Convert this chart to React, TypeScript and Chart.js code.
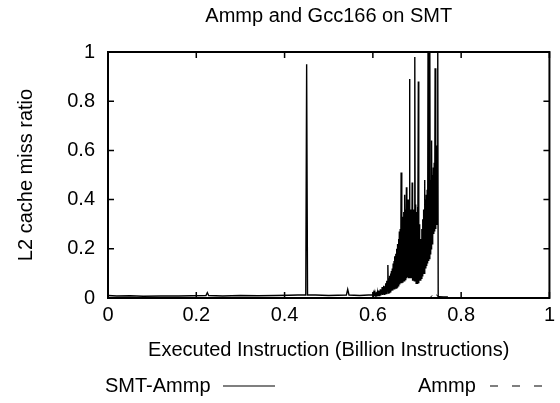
import React, { useEffect, useRef } from "react";
import { Chart, registerables } from "chart.js";

Chart.register(...registerables);

const chartTitle = "Ammp and Gcc166 on SMT";
const xAxisTitle = "Executed Instruction (Billion Instructions)";
const yAxisTitle = "L2 cache miss ratio";
const seriesNames = ["SMT-Ammp", "Ammp"];
const xTicks = [0, 0.2, 0.4, 0.6, 0.8, 1];
const yTicks = [0, 0.2, 0.4, 0.6, 0.8, 1];

// SMT-Ammp: [x (billion instructions), miss ratio]
const smtAmmpLow: number[][] = [
  [0, 0.01], [0.02, 0.008], [0.05, 0.009], [0.08, 0.007], [0.12, 0.008], [0.16, 0.008],
  [0.19, 0.009], [0.222, 0.01], [0.225, 0.022], [0.228, 0.01], [0.26, 0.008], [0.3, 0.01],
  [0.34, 0.009], [0.38, 0.01], [0.41, 0.011], [0.43, 0.012], [0.448, 0.012], [0.45, 0.95],
  [0.452, 0.012], [0.47, 0.012], [0.5, 0.01], [0.54, 0.012], [0.543, 0.035], [0.546, 0.012],
  [0.57, 0.01], [0.59, 0.012],
];

const smtAmmpDense: number[][] = [
  [0.600, 0.012], [0.601, 0.02], [0.602, 0.01], [0.603, 0.018], [0.604, 0.008], [0.605, 0.022],
  [0.606, 0.01], [0.607, 0.015], [0.608, 0.009], [0.609, 0.025], [0.610, 0.01], [0.611, 0.02],
  [0.612, 0.012], [0.613, 0.03], [0.614, 0.01], [0.615, 0.028], [0.616, 0.012], [0.617, 0.035],
  [0.618, 0.01], [0.619, 0.032], [0.620, 0.015], [0.621, 0.045], [0.622, 0.012], [0.623, 0.04],
  [0.624, 0.015], [0.625, 0.05], [0.626, 0.015], [0.627, 0.048], [0.628, 0.02], [0.629, 0.06],
  [0.630, 0.018], [0.631, 0.07], [0.632, 0.02], [0.633, 0.065], [0.634, 0.134], [0.635, 0.02],
  [0.636, 0.08], [0.637, 0.022], [0.638, 0.09], [0.639, 0.025], [0.640, 0.1], [0.641, 0.025],
  [0.642, 0.11], [0.643, 0.03], [0.644, 0.12], [0.645, 0.03], [0.646, 0.14], [0.647, 0.035],
  [0.648, 0.15], [0.649, 0.035], [0.650, 0.17], [0.651, 0.04], [0.652, 0.18], [0.653, 0.04],
  [0.654, 0.2], [0.655, 0.045], [0.656, 0.22], [0.657, 0.05], [0.658, 0.24], [0.659, 0.05],
  [0.660, 0.27], [0.661, 0.055], [0.662, 0.28], [0.663, 0.06], [0.664, 0.51], [0.665, 0.06],
  [0.666, 0.3], [0.667, 0.065], [0.668, 0.33], [0.669, 0.07], [0.670, 0.35], [0.671, 0.07],
  [0.672, 0.42], [0.673, 0.075], [0.674, 0.36], [0.675, 0.08], [0.676, 0.45], [0.677, 0.08],
  [0.678, 0.4], [0.679, 0.085], [0.680, 0.38], [0.681, 0.08], [0.682, 0.4], [0.683, 0.89],
  [0.684, 0.08], [0.685, 0.36], [0.686, 0.08], [0.687, 0.34], [0.688, 0.08], [0.689, 0.47],
  [0.690, 0.07], [0.691, 0.33], [0.692, 0.07], [0.693, 0.36], [0.694, 0.07], [0.695, 0.98],
  [0.696, 0.07], [0.697, 0.38], [0.698, 0.06], [0.699, 0.35], [0.700, 0.06], [0.701, 0.37],
  [0.702, 0.06], [0.703, 0.88], [0.704, 0.06], [0.705, 0.3], [0.706, 0.07], [0.707, 0.24],
  [0.708, 0.07], [0.709, 0.22], [0.710, 0.08], [0.711, 0.28], [0.712, 0.09], [0.713, 0.32],
  [0.714, 0.1], [0.715, 0.36], [0.716, 0.1], [0.717, 0.48], [0.718, 0.11], [0.719, 0.4],
  [0.720, 0.12], [0.721, 0.42], [0.722, 0.13], [0.723, 0.44], [0.724, 0.14], [0.725, 1.05],
  [0.726, 0.15], [0.727, 0.46], [0.728, 0.16], [0.729, 1.05], [0.730, 0.18], [0.731, 0.48],
  [0.732, 0.2], [0.733, 0.64], [0.734, 0.22], [0.735, 0.5], [0.736, 0.24], [0.737, 0.53],
  [0.738, 0.26], [0.739, 0.55], [0.740, 0.27], [0.741, 0.934], [0.742, 0.28], [0.743, 0.58],
  [0.744, 0.3], [0.745, 0.62], [0.746, 0.33], [0.747, 1.05], [0.748, 0.005],
];

const smtAmmpTail: number[][] = [
  [0.75, 0.005], [0.76, 0.004], [0.77, 0.004],
];

// Ammp (single-thread) series
const ammpPoints: number[][] = [
  [0, 0.001], [0.3, 0.001], [0.6, 0.001], [0.73, 0.002], [0.735, 0.012], [0.74, 0.017],
  [0.745, 0.012], [0.75, 0.001], [0.77, 0.001],
];

const FONT = "'Liberation Sans', Arial, Helvetica, sans-serif";
const FS = 20;

const toXY = (arr: number[][]) => arr.map(([x, y]) => ({ x, y }));

const framePlugin = {
  id: "gnuplotFrame",
  afterDatasetsDraw(chart: any) {
    const { ctx, chartArea, scales } = chart;
    const { left, right, top, bottom } = chartArea;
    ctx.save();
    ctx.strokeStyle = "#000";
    ctx.lineWidth = 2;
    ctx.setLineDash([]);
    ctx.strokeRect(left, top, right - left, bottom - top);
    ctx.lineWidth = 1.5;
    const tl = 6;
    xTicks.forEach((v) => {
      const px = scales.x.getPixelForValue(v);
      ctx.beginPath();
      ctx.moveTo(px, bottom);
      ctx.lineTo(px, bottom - tl);
      ctx.moveTo(px, top);
      ctx.lineTo(px, top + tl);
      ctx.stroke();
    });
    yTicks.forEach((v) => {
      const py = scales.y.getPixelForValue(v);
      ctx.beginPath();
      ctx.moveTo(left, py);
      ctx.lineTo(left + tl, py);
      ctx.moveTo(right, py);
      ctx.lineTo(right - tl, py);
      ctx.stroke();
    });
    ctx.restore();
  },
  afterDraw(chart: any) {
    const { ctx, chartArea } = chart;
    const cx = (chartArea.left + chartArea.right) / 2;
    const cy = (chartArea.top + chartArea.bottom) / 2;
    ctx.save();
    ctx.fillStyle = "#000";
    ctx.font = `${FS}px ${FONT}`;
    ctx.textBaseline = "middle";
    ctx.textAlign = "center";
    ctx.fillText(chartTitle, cx, 16);
    ctx.fillText(xAxisTitle, cx, 350);
    ctx.save();
    ctx.translate(26, cy);
    ctx.rotate(-Math.PI / 2);
    ctx.fillText(yAxisTitle, 0, 0);
    ctx.restore();

    // legend
    ctx.textAlign = "left";
    const ly = 386;
    ctx.fillText(seriesNames[0], 105, ly);
    ctx.strokeStyle = "#000";
    ctx.lineWidth = 1.2;
    ctx.beginPath();
    ctx.moveTo(223, ly);
    ctx.lineTo(275, ly);
    ctx.stroke();
    ctx.fillText(seriesNames[1], 418, ly);
    ctx.setLineDash([8, 14]);
    ctx.beginPath();
    ctx.moveTo(490, ly);
    ctx.lineTo(544, ly);
    ctx.stroke();
    ctx.restore();
  },
};

export default function App() {
  const ref = useRef<HTMLCanvasElement | null>(null);
  useEffect(() => {
    if (!ref.current) return;
    const chart = new Chart(ref.current, {
      type: "line",
      data: {
        datasets: [
          {
            label: seriesNames[0],
            data: toXY([...smtAmmpLow, ...smtAmmpDense, ...smtAmmpTail]),
            borderColor: "#000",
            borderWidth: 1.4,
            pointRadius: 0,
            tension: 0,
            fill: false,
          },
          {
            label: seriesNames[1],
            data: toXY(ammpPoints),
            borderColor: "#000",
            borderWidth: 1,
            borderDash: [5, 5],
            pointRadius: 0,
            tension: 0,
            fill: false,
          },
        ],
      },
      options: {
        animation: false,
        responsive: false,
        layout: { padding: { top: 52, right: 10, left: 0, bottom: 0 } },
        plugins: {
          legend: { display: false },
          title: { display: false },
          tooltip: { enabled: false },
        },
        scales: {
          x: {
            type: "linear",
            min: 0,
            max: 1,
            grid: { display: false, drawTicks: false },
            border: { display: false },
            afterFit: (s: any) => {
              s.height = 105;
            },
            afterBuildTicks: (s: any) => {
              s.ticks = xTicks.map((v) => ({ value: v }));
            },
            ticks: {
              color: "#000",
              font: { family: FONT, size: FS },
              padding: 5,
              maxRotation: 0,
              callback: (v: any) => String(v),
            },
          },
          y: {
            type: "linear",
            min: 0,
            max: 1,
            grid: { display: false, drawTicks: false },
            border: { display: false },
            afterFit: (s: any) => {
              s.width = 108;
            },
            afterBuildTicks: (s: any) => {
              s.ticks = yTicks.map((v) => ({ value: v }));
            },
            ticks: {
              color: "#000",
              font: { family: FONT, size: FS },
              padding: 13,
              callback: (v: any) => String(v),
            },
          },
        },
      },
      plugins: [framePlugin],
    });
    return () => chart.destroy();
  }, []);
  return (
    <div style={{ position: "absolute", left: 0, top: 0, width: 560, height: 403, background: "#fff" }}>
      <canvas ref={ref} width={560} height={403} style={{ display: "block" }} />
    </div>
  );
}
